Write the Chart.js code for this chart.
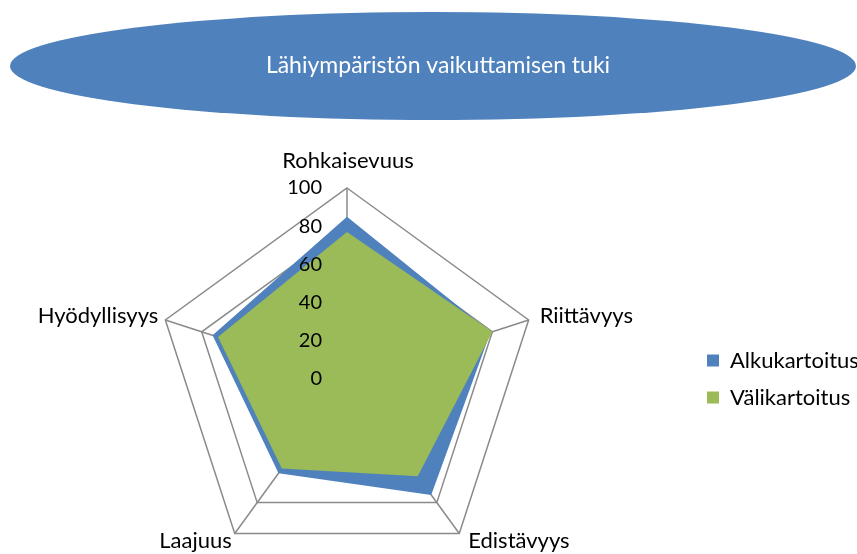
<!DOCTYPE html>
<html>
<head>
<meta charset="utf-8">
<script src="https://cdn.jsdelivr.net/npm/chart.js@4/dist/chart.umd.min.js"></script>
<style>
  html, body { margin: 0; background: #fff; overflow: hidden; }
  #wrap { width: 857px; height: 570px; }
</style>
</head>
<body>
<div id="wrap"><canvas id="radarChart"></canvas></div>
<script>
// Data
const categories = ['Rohkaisevuus', 'Riittävyys', 'Edistävyys', 'Laajuus', 'Hyödyllisyys'];
const alkukartoitus = [85, 79, 75, 61, 74];
const valikartoitus = [77, 80, 63, 58, 71];
const tickValues = [0, 20, 40, 60, 80, 100];
const titleText = 'Lähiympäristön vaikuttamisen tuki';

const FONT = 'Lato, "Open Sans", sans-serif';

// where each category label sits relative to its outer vertex (Excel style)
const labelPlace = [
    { align: 'center', dx: 1, dy: -20 },
    { align: 'left', dx: 11, dy: 3 },
    { align: 'left', dx: 9, dy: 14 },
    { align: 'right', dx: -3, dy: 14 },
    { align: 'right', dx: -7, dy: 3 },
];

// blue ellipse with the title text
const titlePlugin = {
    id: 'ellipseTitle',
    beforeDraw(chart) {
        const c = chart.ctx;
        c.save();
        c.fillStyle = '#4f81bd';
        c.beginPath();
        c.ellipse(433, 66, 423, 54, 0, 0, Math.PI * 2);
        c.fill();
        c.fillStyle = '#fff';
        c.font = '23px ' + FONT;
        c.textAlign = 'center';
        c.textBaseline = 'alphabetic';
        c.fillText(titleText, 438, 73);
        c.restore();
    }
};

// tick labels left of the vertical axis and category labels, like Excel
const labelPlugin = {
    id: 'excelLabels',
    afterDatasetsDraw(chart) {
        const r = chart.scales.r;
        const c = chart.ctx;
        c.save();
        c.fillStyle = '#000';
        c.font = '20px ' + FONT;
        c.textAlign = 'right';
        c.textBaseline = 'middle';
        tickValues.forEach(v => {
            const p = r.getPointPositionForValue(0, v);
            c.fillText(String(v), p.x - 25, p.y);
        });
        c.font = '22px ' + FONT;
        c.textBaseline = 'alphabetic';
        categories.forEach((name, i) => {
            const p = r.getPointPosition(i, r.drawingArea);
            const pl = labelPlace[i];
            c.textAlign = pl.align;
            c.fillText(name, p.x + pl.dx, p.y + pl.dy);
        });
        c.restore();
    }
};

const ctx = document.getElementById('radarChart').getContext('2d');
const radarChart = new Chart(ctx, {
    type: 'radar',
    data: {
        labels: categories,
        datasets: [
            {
                label: 'Alkukartoitus',
                data: alkukartoitus,
                backgroundColor: '#4f81bd',
                borderWidth: 0,
                pointRadius: 0,
                fill: true,
                order: 1,
            },
            {
                label: 'Välikartoitus',
                data: valikartoitus,
                backgroundColor: '#9bbb59',
                borderWidth: 0,
                pointRadius: 0,
                fill: true,
                order: 0,
            },
        ],
    },
    options: {
        responsive: true,
        maintainAspectRatio: false,
        animation: false,
        layout: {
            padding: { left: 2, top: 188, right: 0, bottom: 0 },
        },
        plugins: {
            title: { display: false },
            legend: {
                display: true,
                position: 'right',
                maxWidth: 165,
                labels: {
                    color: '#000',
                    font: { family: FONT, size: 22 },
                    boxWidth: 12,
                    boxHeight: 12,
                    padding: 15,
                    sort: (a, b) => a.datasetIndex - b.datasetIndex,
                },
            },
            tooltip: { enabled: false },
        },
        scales: {
            r: {
                min: 0,
                max: 100,
                ticks: { stepSize: 20, display: false },
                grid: { color: '#8a8a8a', lineWidth: 1.5 },
                angleLines: { color: '#8a8a8a', lineWidth: 1.5 },
                pointLabels: { display: false },
            },
        },
    },
    plugins: [titlePlugin, labelPlugin],
});
</script>
</body>
</html>
